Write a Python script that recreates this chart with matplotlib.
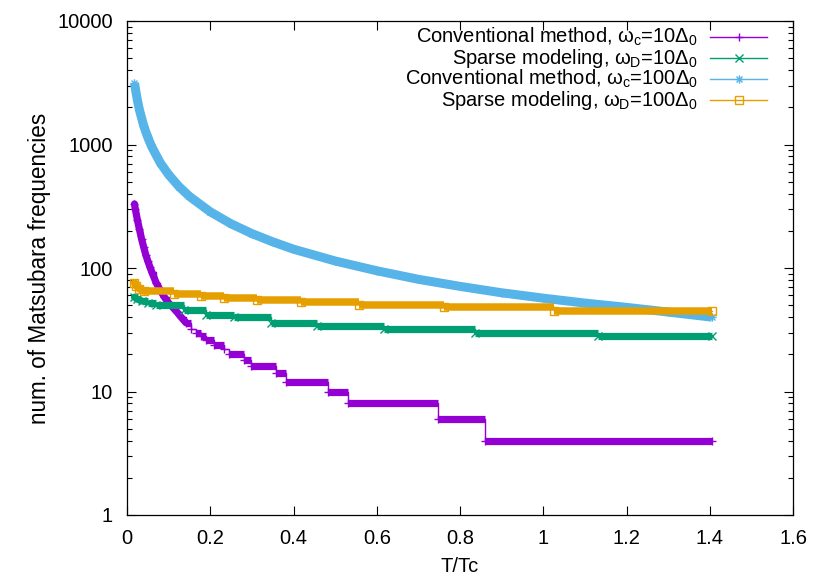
import numpy as np
import matplotlib
matplotlib.use("Agg")
import matplotlib.pyplot as plt
from matplotlib.path import Path
from matplotlib.ticker import FixedLocator, FuncFormatter, LogLocator, NullFormatter

# ---------------- data ----------------
# Conventional method, omega_c = 10 Delta_0  (step function, values at step starts)
T_conv10 = [0.018, 0.02, 0.025, 0.03, 0.035, 0.04, 0.045, 0.05, 0.055, 0.06, 0.07,
            0.08, 0.09, 0.10, 0.11, 0.12, 0.13, 0.142, 0.154, 0.165, 0.178, 0.19,
            0.209, 0.233, 0.245, 0.282, 0.298, 0.358, 0.382, 0.484, 0.530, 0.746,
            0.859, 1.405]
N_conv10 = [330, 300, 245, 205, 172, 148, 128, 114, 102, 92, 76,
            66, 58, 52, 48, 44, 40, 36, 32, 30, 28, 26,
            24, 22, 20, 18, 16, 14, 12, 10, 8, 6,
            4, 4]

# Sparse modeling, omega_D = 10 Delta_0
T_sp10 = [0.018, 0.025, 0.035, 0.05, 0.070, 0.137, 0.190, 0.257, 0.346, 0.457,
          0.618, 0.837, 1.131, 1.405]
N_sp10 = [58, 56, 54, 52, 50, 46, 42, 40, 36, 34, 32, 30, 28, 28]

# Conventional method, omega_c = 100 Delta_0
T_conv100 = [0.018, 0.02, 0.025, 0.03, 0.04, 0.05, 0.06, 0.08, 0.10, 0.125, 0.15,
             0.20, 0.25, 0.30, 0.35, 0.40, 0.50, 0.60, 0.70, 0.80, 0.90, 1.00,
             1.10, 1.20, 1.30, 1.405]
N_conv100 = [3150, 2850, 2280, 1900, 1420, 1140, 950, 710, 570, 456, 380,
             285, 228, 190, 163, 142, 114, 95, 81, 71, 63, 57,
             52, 48, 44, 40]

# Sparse modeling, omega_D = 100 Delta_0
T_sp100 = [0.018, 0.022, 0.03, 0.041, 0.113, 0.178, 0.233, 0.313, 0.419, 0.558,
           0.762, 1.027, 1.405]
N_sp100 = [76, 72, 68, 65, 62, 59, 57, 55, 53, 50, 48, 45, 45]

labels = [r"Conventional method, $\omega_{\rm c}$=10$\Delta_{0}$",
          r"Sparse modeling, $\omega_{\rm D}$=10$\Delta_{0}$",
          r"Conventional method, $\omega_{\rm c}$=100$\Delta_{0}$",
          r"Sparse modeling, $\omega_{\rm D}$=100$\Delta_{0}$"]

x_ticks = [0, 0.2, 0.4, 0.6, 0.8, 1.0, 1.2, 1.4, 1.6]
y_ticks = [1, 10, 100, 1000, 10000]

# ---------------- style ----------------
plt.rcParams["font.family"] = ["Liberation Sans", "DejaVu Sans"]
plt.rcParams["mathtext.fontset"] = "custom"
plt.rcParams["mathtext.rm"] = "Liberation Sans"
plt.rcParams["mathtext.it"] = "Liberation Sans"
plt.rcParams["mathtext.bf"] = "Liberation Sans"
FS = 14.5

colors = ["#9400d3", "#009e73", "#56b4e9", "#e69f00"]

ast = Path([(-1, 0), (1, 0), (0, -1), (0, 1),
            (-0.72, -0.72), (0.72, 0.72), (-0.72, 0.72), (0.72, -0.72)],
           [Path.MOVETO, Path.LINETO] * 4)
markers = ["+", "x", ast, "s"]
band_lw = [5.2, 5.2, 6.5, 5.4]

fig = plt.figure(figsize=(8.30, 5.81), dpi=100)
L, R, B, Tp = 127, 793, 515, 21
ax = fig.add_axes([L / 830, 1 - B / 581, (R - L) / 830, (B - Tp) / 581])

series = [(T_conv10, N_conv10, True), (T_sp10, N_sp10, True),
          (T_conv100, N_conv100, False), (T_sp100, N_sp100, True)]

for i, (t, n, step) in enumerate(series):
    c = colors[i]
    z = 2 + i * 0.1
    t = np.asarray(t)
    n = np.asarray(n)
    if step:
        # dense marker band: thick along the flat parts, thin risers
        seg_w = np.diff(t)
        steep = seg_w < 0.012
        # steep low-T part drawn as a continuous band
        k = np.argmax(~steep) if (~steep).any() else len(t) - 1
        if k > 0:
            ax.plot(t[:k + 1], n[:k + 1], color=c, lw=band_lw[i],
                    solid_capstyle="round", zorder=z)
        ax.hlines(n[:-1][~steep], t[:-1][~steep], t[1:][~steep], color=c,
                  lw=band_lw[i], zorder=z)
        ax.plot(t, n, color=c, lw=1.0, drawstyle="steps-post", zorder=z + 0.05)
    else:
        ax.plot(t, n, color=c, lw=band_lw[i], solid_capstyle="butt", zorder=z)
        ax.plot(t, n, color=c, lw=1.0, zorder=z + 0.05)
    ax.plot(t, n, linestyle="none", marker=markers[i], ms=6, mew=1.0,
            mec=c, mfc="none", color=c, zorder=z + 0.06)

ax.set_yscale("log")
ax.set_xlim(0, 1.6)
ax.set_ylim(1, 10000)
ax.xaxis.set_major_locator(FixedLocator(x_ticks))
ax.xaxis.set_major_formatter(FuncFormatter(lambda v, p: f"{v:g}"))
ax.yaxis.set_major_locator(FixedLocator(y_ticks))
ax.yaxis.set_major_formatter(FuncFormatter(lambda v, p: f"{int(round(v))}"))
ax.yaxis.set_minor_locator(LogLocator(base=10, subs=np.arange(2, 10), numticks=20))
ax.yaxis.set_minor_formatter(NullFormatter())
ax.tick_params(axis="both", which="major", direction="in", length=6.5, width=0.8,
               top=True, right=True, labelsize=FS)
ax.tick_params(axis="y", which="major", pad=10)
ax.tick_params(axis="x", which="major", pad=10)
ax.tick_params(axis="y", which="minor", direction="in", length=3.3, width=0.8,
               left=True, right=True)
for s in ax.spines.values():
    s.set_linewidth(0.9)

ax.set_xlabel("T/Tc", fontsize=FS)
ax.set_ylabel("num. of Matsubara frequencies", fontsize=FS * 1.12)
ax.xaxis.set_label_coords(0.5, (B - 566) / (B - Tp))
ax.xaxis.label.set_verticalalignment("center")
ax.yaxis.set_label_coords((40 - L) / (R - L), 0.5)
ax.yaxis.label.set_verticalalignment("center")

# manual gnuplot-like key
def ax_x(px):
    return (px - L) / (R - L)

def ax_y(py):
    return (B - py) / (B - Tp)

rows = [37, 58, 79, 100]
for i, py in enumerate(rows):
    ax.text(ax_x(698), ax_y(py), labels[i], transform=ax.transAxes,
            ha="right", va="center", fontsize=FS)
    ax.plot([ax_x(710), ax_x(767)], [ax_y(py)] * 2, transform=ax.transAxes,
            color=colors[i], lw=1.0, clip_on=False)
    ax.plot([ax_x(739)], [ax_y(py)], transform=ax.transAxes, linestyle="none",
            marker=markers[i], ms=6, mew=1.0, mec=colors[i], mfc="none",
            clip_on=False)

fig.savefig("out.png", dpi=100)
